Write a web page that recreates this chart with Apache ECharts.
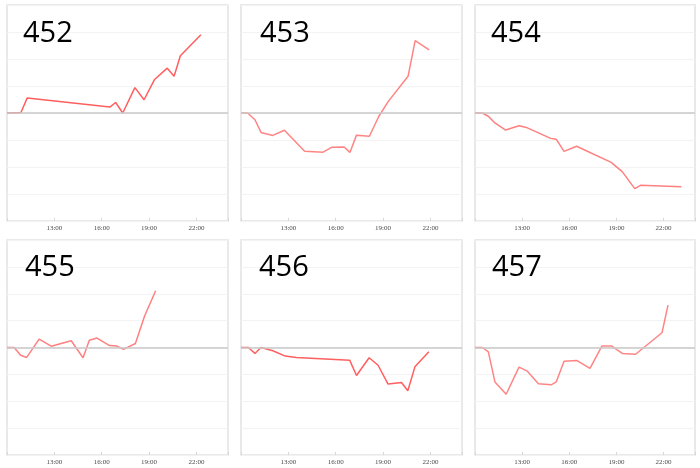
<!DOCTYPE html>
<html>
<head>
<meta charset="utf-8">
<script src="https://cdn.jsdelivr.net/npm/echarts@6/dist/echarts.min.js"></script>
<style>html,body{margin:0;padding:0;background:#fff}#c{width:700px;height:468px}</style>
</head>
<body>
<div id="c"></div>
<script>
const names = ['452', '453', '454', '455', '456', '457'];
const tickLabels = ['13:00', '16:00', '19:00', '22:00'];

const times452 = ['10:00','10:53','11:17','16:31','16:53','17:20','18:06','18:41','19:20','20:09','20:35','20:59','22:17'];
const values452 = [0, 0.02, 0.56, 0.22, 0.39, 0, 0.94, 0.49, 1.23, 1.66, 1.36, 2.12, 2.9];

const times453 = ['10:00','10:25','10:53','11:16','12:01','12:45','14:02','15:12','15:44','16:32','16:54','17:19','18:08','18:44','19:20','20:35','21:02','21:55'];
const values453 = [0, 0, -0.25, -0.72, -0.83, -0.64, -1.42, -1.45, -1.27, -1.26, -1.46, -0.82, -0.86, -0.12, 0.43, 1.36, 2.68, 2.34];

const times454 = ['10:00','10:28','10:51','11:16','11:57','12:48','13:20','14:49','15:10','15:40','16:28','18:40','19:22','20:10','20:32','23:08'];
const values454 = [0, 0, -0.12, -0.37, -0.63, -0.47, -0.55, -0.94, -0.97, -1.42, -1.23, -1.83, -2.17, -2.8, -2.68, -2.73];

const times455 = ['10:00','10:27','10:52','11:15','12:02','12:48','14:04','14:49','15:13','15:42','16:30','16:56','17:23','18:08','18:43','19:25'];
const values455 = [0, 0, -0.29, -0.37, 0.31, 0.05, 0.25, -0.38, 0.27, 0.35, 0.07, 0.06, -0.07, 0.15, 1.17, 2.11];

const times456 = ['10:00','10:28','10:53','11:16','12:01','12:48','13:30','16:53','17:19','18:07','18:41','19:19','20:10','20:34','21:01','21:54'];
const values456 = [0, 0, -0.22, 0, -0.12, -0.32, -0.37, -0.47, -1.04, -0.38, -0.66, -1.36, -1.3, -1.61, -0.72, -0.16];

const times457 = ['10:00','10:28','10:51','11:16','11:59','12:48','13:20','14:02','14:51','15:10','15:40','16:28','17:19','18:05','18:41','19:22','20:13','21:54','22:17'];
const values457 = [0, 0, -0.16, -1.28, -1.74, -0.73, -0.88, -1.35, -1.39, -1.28, -0.51, -0.48, -0.78, 0.06, 0.06, -0.22, -0.25, 0.55, 1.58];

const allTimes = [times452, times453, times454, times455, times456, times457];
const allValues = [values452, values453, values454, values455, values456, values457];
const lineColors = ['#ff5f5f', '#ff8585', '#ff8080', '#ff8080', '#ff5f5f', '#ff8585'];

function toHours(s) { const p = s.split(':'); return +p[0] + (+p[1]) / 60; }

const lefts = [7, 241, 475];
const widths = [221, 221, 220];
const tops = [5, 240];
const heights = [216, 215];
const titleLefts = [23, 260, 491, 25, 259, 492];
const titleTops = [19, 253];

const grids = [], xAxes = [], yAxes = [], series = [], titles = [];
for (let i = 0; i < 6; i++) {
  const col = i % 3, row = Math.floor(i / 3);
  grids.push({ left: lefts[col], top: tops[row], width: widths[col], height: heights[row],
    show: true, borderColor: '#e2e2e2', borderWidth: 1.5, backgroundColor: '#fff' });
  xAxes.push({ type: 'value', gridIndex: i, min: 10, max: 24, interval: 3,
    axisLine: { show: false, onZero: false },
    axisTick: { show: true, inside: true, length: 3, lineStyle: { color: '#d8d8d8' } },
    splitLine: { show: false },
    axisLabel: { fontSize: 7, fontFamily: 'Liberation Serif', color: '#4a4a4a', margin: 4,
      formatter: function (v) { const s = v + ':00'; return tickLabels.indexOf(s) >= 0 ? s : ''; } } });
  yAxes.push({ type: 'value', gridIndex: i, min: -4, max: 4, interval: 1,
    axisLine: { show: false }, axisTick: { show: false }, axisLabel: { show: false },
    splitLine: { show: true, lineStyle: { color: '#f3f3f3', width: 1 } } });
  const data = allTimes[i].map((t, k) => [toHours(t), allValues[i][k]]);
  series.push({ type: 'line', xAxisIndex: i, yAxisIndex: i, data: data, showSymbol: false,
    lineStyle: { color: lineColors[i], width: 1.5 }, itemStyle: { color: lineColors[i] }, animation: false,
    markLine: { silent: true, symbol: 'none', label: { show: false },
      lineStyle: { color: '#c8c8c8', type: 'solid', width: 1.5 }, data: [{ yAxis: 0 }] } });
  titles.push({ text: names[i], left: titleLefts[i], top: titleTops[row], padding: 0,
    textStyle: { fontFamily: 'Open Sans', fontSize: 29, fontWeight: 'normal', color: '#000' } });
}

const chart = echarts.init(document.getElementById('c'));
chart.setOption({ animation: false, backgroundColor: '#fff', title: titles, grid: grids,
  xAxis: xAxes, yAxis: yAxes, series: series });
</script>
</body>
</html>
